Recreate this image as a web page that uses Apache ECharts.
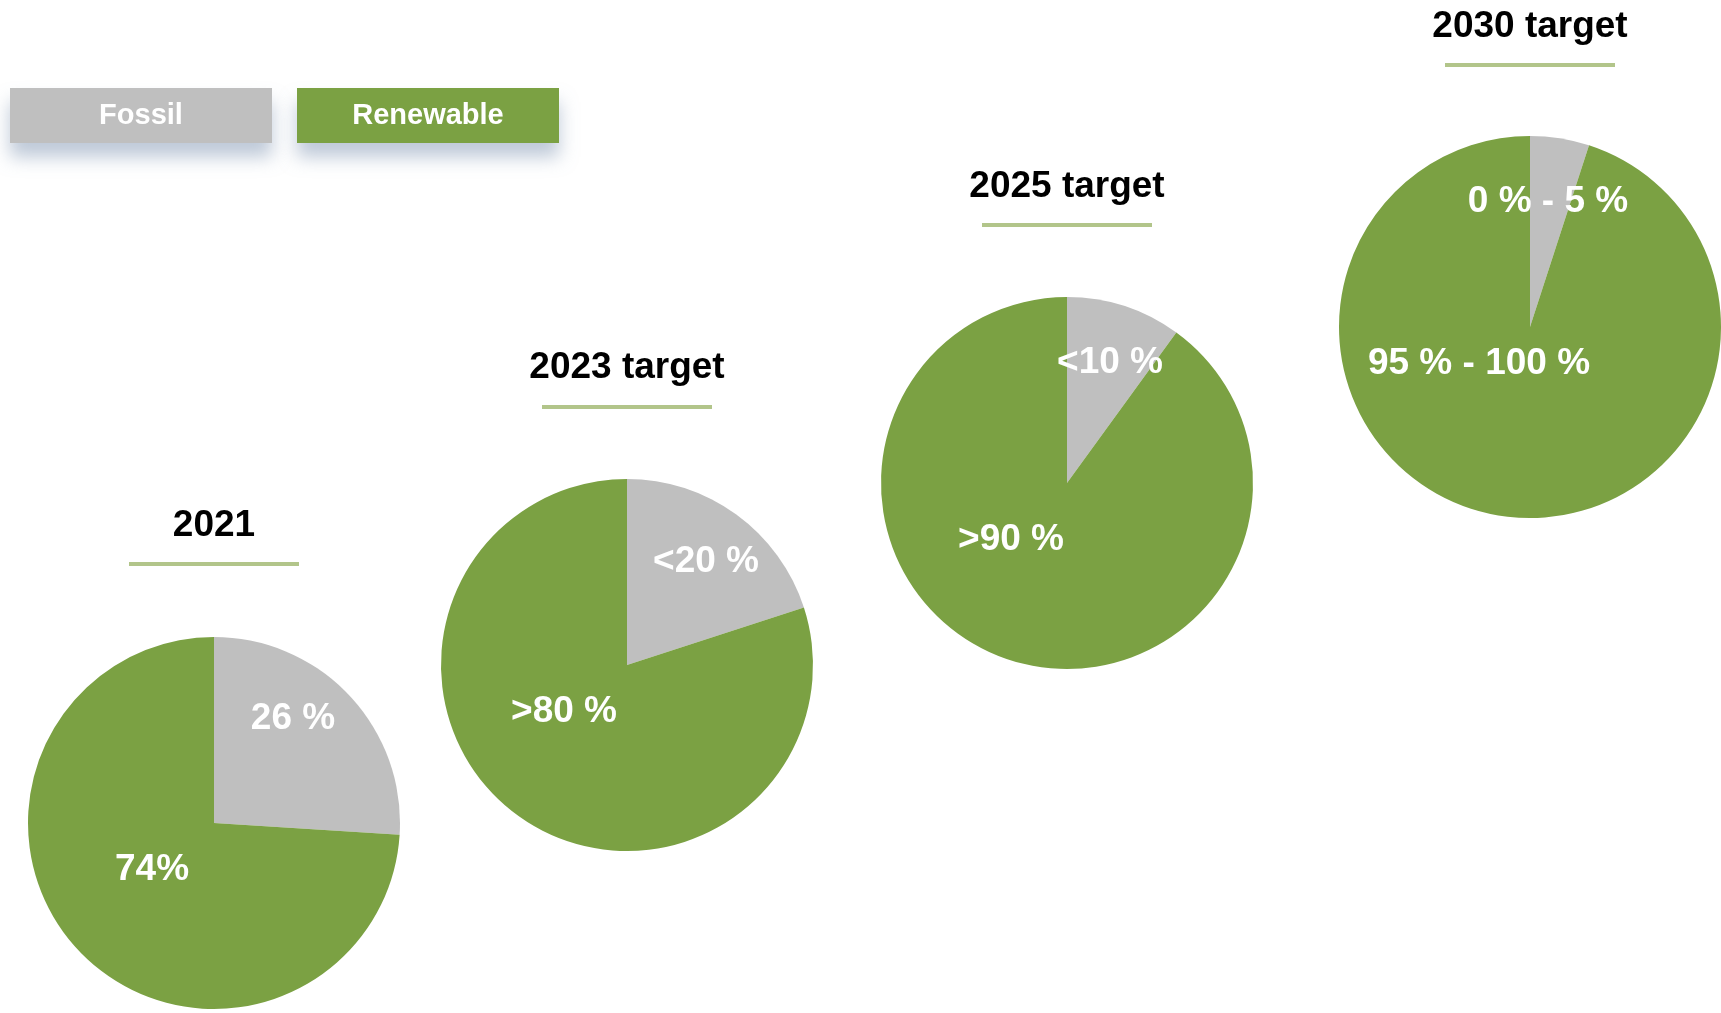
<!DOCTYPE html>
<html>
<head>
<meta charset="utf-8">
<title>Fossil vs renewable share</title>
<script src="https://cdn.jsdelivr.net/npm/echarts@6/dist/echarts.min.js"></script>
<style>
  html, body { margin: 0; padding: 0; background: #ffffff; }
  #chart { width: 1721px; height: 1013px; }
</style>
</head>
<body>
<div id="chart"></div>
<script>
// ---- data ----
const categories = ['Fossil', 'Renewable'];
const periods = ['2021', '2023 target', '2025 target', '2030 target'];
const fossilShare = [26, 20, 10, 5];
const renewableShare = [74, 80, 90, 95];
const fossilLabels = ['26 %', '<20 %', '<10 %', '0 % - 5 %'];
const renewableLabels = ['74%', '>80 %', '>90 %', '95 % - 100 %'];

// ---- layout (pixels) ----
const pieCenters = [[214, 823], [627, 665], [1067, 483], [1530, 327]];
const pieRadii = [186, 186, 186, 191];
const titleY = [526, 368, 187, 27];
const underlineY = [564, 407, 225, 65];
const underlineHalf = 85;
// label anchor offsets from each pie centre: [fossil, renewable]
const labelOffsets = [
  [[79, -104], [-62, 47]],
  [[79, -103], [-63, 47]],
  [[43, -120], [-56, 57]],
  [[18, -125], [-51, 37]]
];

const FONT = '"Liberation Sans", Arial, sans-serif';
const GREY = '#bfbfbf';
const GREEN = '#7ba143';
const RULE = '#b2c58a';

const chart = echarts.init(document.getElementById('chart'), null, { renderer: 'canvas' });

const series = periods.map((p, i) => ({
  type: 'pie',
  name: p,
  center: pieCenters[i],
  radius: pieRadii[i],
  startAngle: 90,
  clockwise: true,
  silent: true,
  avoidLabelOverlap: false,
  itemStyle: { borderWidth: 0 },
  emphasis: { disabled: true },
  labelLine: { show: false },
  label: {
    show: true,
    position: 'inside',
    color: '#ffffff',
    fontFamily: FONT,
    fontWeight: 'bold',
    fontSize: 37,
    formatter: (params) => (params.dataIndex === 0 ? fossilLabels[i] : renewableLabels[i])
  },
  labelLayout: (params) => {
    const off = labelOffsets[i][params.dataIndex];
    return {
      x: pieCenters[i][0] + off[0],
      y: pieCenters[i][1] + off[1],
      align: 'center',
      verticalAlign: 'middle'
    };
  },
  data: [
    { name: categories[0], value: fossilShare[i], itemStyle: { color: GREY } },
    { name: categories[1], value: renewableShare[i], itemStyle: { color: GREEN } }
  ]
}));

const titles = periods.map((p, i) => ({
  text: p,
  left: pieCenters[i][0],
  top: titleY[i],
  textAlign: 'center',
  textVerticalAlign: 'middle',
  padding: 0,
  textStyle: {
    fontFamily: FONT,
    fontWeight: 'bold',
    fontSize: 37,
    color: '#000000'
  }
}));

const rules = periods.map((p, i) => ({
  type: 'line',
  silent: true,
  shape: {
    x1: pieCenters[i][0] - underlineHalf,
    y1: underlineY[i],
    x2: pieCenters[i][0] + underlineHalf,
    y2: underlineY[i]
  },
  style: { stroke: RULE, lineWidth: 4 }
}));

const boxStyle = {
  width: 262,
  height: 55,
  lineHeight: 55,
  align: 'center',
  color: '#ffffff',
  fontFamily: FONT,
  fontWeight: 'bold',
  fontSize: 29,
  shadowColor: 'rgba(125, 148, 178, 0.5)',
  shadowBlur: 18,
  shadowOffsetY: 14
};

chart.setOption({
  animation: false,
  backgroundColor: '#ffffff',
  title: titles,
  legend: {
    left: 0,
    top: 83,
    orient: 'horizontal',
    itemWidth: 0,
    itemHeight: 0,
    itemGap: 20,
    selectedMode: false,
    icon: 'none',
    data: categories,
    formatter: (name) => (name === categories[0] ? '{f|' + name + '}' : '{r|' + name + '}'),
    textStyle: {
      rich: {
        f: Object.assign({}, boxStyle, { backgroundColor: GREY }),
        r: Object.assign({}, boxStyle, { backgroundColor: GREEN })
      }
    }
  },
  graphic: rules,
  series: series
});
</script>
</body>
</html>
